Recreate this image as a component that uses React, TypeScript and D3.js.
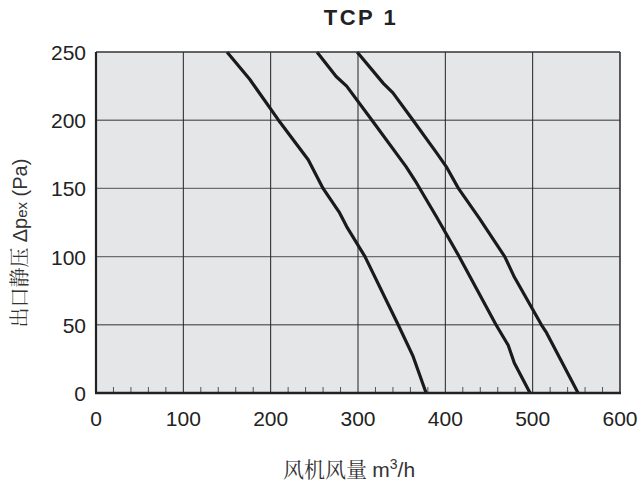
import * as d3 from "d3";
import { useEffect, useRef } from "react";

// fan curves: [airflow m3/h, pressure Pa]
const curveLow = [
  [150, 250], [176, 230], [209, 200], [243, 171], [260, 150], [279, 132],
  [287, 122], [308, 100], [346, 50], [363, 27], [378, 0],
];
const curveMid = [
  [253, 250], [275, 232], [287, 225], [316, 200], [355, 166], [367, 154],
  [378, 142], [390, 129], [415, 101], [458, 50], [472, 35], [479, 22], [497, 0],
];
const curveHigh = [
  [299, 250], [329, 227], [340, 220], [363, 200], [390, 176], [401, 166],
  [415, 150], [439, 128], [468, 100], [479, 85], [510, 50], [516, 44], [552, 0],
];
const xTicks = [0, 100, 200, 300, 400, 500, 600];
const yTicks = [0, 50, 100, 150, 200, 250];
const title = "TCP 1";

function App() {
  const ref = useRef(null);

  useEffect(() => {
    const width = 641;
    const height = 489;
    const left = 96, right = 620, top = 52, bottom = 393;

    const svg = d3.select(ref.current).attr("width", width).attr("height", height);
    svg.selectAll("*").remove();

    const x = d3.scaleLinear().domain([0, 600]).range([left, right]);
    const y = d3.scaleLinear().domain([0, 250]).range([bottom, top]);

    svg.append("rect")
      .attr("x", left).attr("y", top)
      .attr("width", right - left).attr("height", bottom - top)
      .attr("fill", "#e5e6e8");

    // horizontal grid (gray)
    svg.append("g").selectAll("line")
      .data(yTicks.slice(1, -1))
      .enter().append("line")
      .attr("x1", left).attr("x2", right)
      .attr("y1", d => y(d)).attr("y2", d => y(d))
      .attr("stroke", "#6e6e6e").attr("stroke-width", 1.4);

    // vertical grid (black)
    svg.append("g").selectAll("line")
      .data(xTicks.slice(1, -1))
      .enter().append("line")
      .attr("x1", d => x(d)).attr("x2", d => x(d))
      .attr("y1", top).attr("y2", bottom)
      .attr("stroke", "#222").attr("stroke-width", 1);

    // minor ticks along the bottom
    const minor = d3.range(0, 601, 20).filter(v => v % 100 !== 0);
    svg.append("g").selectAll("line")
      .data(minor)
      .enter().append("line")
      .attr("x1", d => x(d)).attr("x2", d => x(d))
      .attr("y1", bottom).attr("y2", bottom - 6)
      .attr("stroke", "#555").attr("stroke-width", 1);

    // curves
    const line = d3.line().x(d => x(d[0])).y(d => y(d[1]));
    svg.append("g").selectAll("path")
      .data([curveLow, curveMid, curveHigh])
      .enter().append("path")
      .attr("d", d => line(d))
      .attr("fill", "none")
      .attr("stroke", "#1a1a1a")
      .attr("stroke-width", 3.2)
      .attr("stroke-linejoin", "round");

    // frame
    svg.append("line").attr("x1", left).attr("x2", right).attr("y1", top).attr("y2", top)
      .attr("stroke", "#333").attr("stroke-width", 1.6);
    svg.append("line").attr("x1", right).attr("x2", right).attr("y1", top).attr("y2", bottom)
      .attr("stroke", "#333").attr("stroke-width", 1.6);
    svg.append("line").attr("x1", left).attr("x2", left).attr("y1", top).attr("y2", bottom)
      .attr("stroke", "#222").attr("stroke-width", 2.2);
    svg.append("line").attr("x1", left - 1).attr("x2", right + 1).attr("y1", bottom).attr("y2", bottom)
      .attr("stroke", "#222").attr("stroke-width", 2.6);

    const font = "Liberation Sans, Arial, sans-serif";
    const cjk = "Noto Serif CJK SC, Noto Sans CJK SC, serif";

    svg.append("g").selectAll("text")
      .data(xTicks)
      .enter().append("text")
      .attr("x", d => x(d)).attr("y", 426)
      .attr("text-anchor", "middle")
      .style("font-family", font).style("font-size", "21px").attr("fill", "#222")
      .text(d => d);

    svg.append("g").selectAll("text")
      .data(yTicks)
      .enter().append("text")
      .attr("x", 86).attr("y", d => y(d) + 8)
      .attr("text-anchor", "end")
      .style("font-family", font).style("font-size", "21px").attr("fill", "#222")
      .text(d => d);

    svg.append("text")
      .attr("x", 361).attr("y", 25)
      .attr("text-anchor", "middle")
      .style("font-family", font).style("font-size", "22px").style("font-weight", "bold")
      .style("letter-spacing", "2.5px")
      .attr("fill", "#222")
      .text(title);

    // x axis label
    const xl = svg.append("text")
      .attr("x", 349).attr("y", 477)
      .attr("text-anchor", "middle")
      .attr("fill", "#333")
      .style("font-size", "21px");
    xl.append("tspan").style("font-family", cjk).text("风机风量 ");
    xl.append("tspan").style("font-family", font).text("m");
    xl.append("tspan").style("font-family", font).style("font-size", "14px").attr("dy", -8).text("3");
    xl.append("tspan").style("font-family", font).attr("dy", 8).text("/h");

    // y axis label
    const yl = svg.append("text")
      .attr("transform", "translate(27, 243) rotate(-90)")
      .attr("text-anchor", "middle")
      .attr("fill", "#333")
      .style("font-size", "20px");
    yl.append("tspan").style("font-family", cjk).text("出口静压 ");
    yl.append("tspan").style("font-family", font).text("Δp");
    yl.append("tspan").style("font-family", font).style("font-size", "15px").text("ex");
    yl.append("tspan").style("font-family", font).text(" (Pa)");
  }, []);

  return (
    <div style={{ position: "absolute", left: 0, top: 0 }}>
      <svg ref={ref}></svg>
    </div>
  );
}

export default App;
